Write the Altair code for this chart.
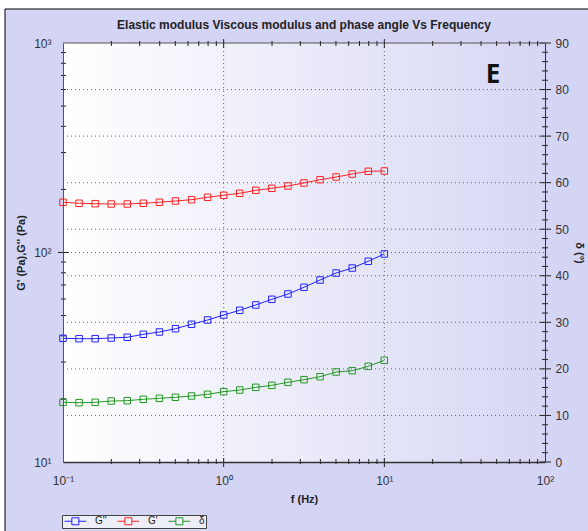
import altair as alt
import pandas as pd

# ---------------- data ----------------
freq = [0.1, 0.1259, 0.1585, 0.1995, 0.2512, 0.3162, 0.3981, 0.5012, 0.631, 0.7943,
        1.0, 1.259, 1.585, 1.995, 2.512, 3.162, 3.981, 5.012, 6.31, 7.943, 10.0]
g_storage = [173.7, 171.8, 171.0, 170.4, 170.4, 171.8, 173.7, 176.2, 178.7, 183.5,
             187.5, 191.7, 198.1, 202.6, 207.7, 214.7, 222.6, 229.3, 236.9, 244.1, 244.9]
g_loss = [38.95, 38.78, 38.78, 39.08, 39.38, 40.7, 41.74, 43.28, 45.43, 47.62,
          50.31, 52.98, 56.16, 59.78, 63.37, 68.22, 73.9, 79.8, 84.3, 90.8, 98.4]
delta = [12.82, 12.74, 12.82, 13.10, 13.17, 13.47, 13.68, 13.90, 14.18, 14.54,
         15.10, 15.46, 16.04, 16.47, 17.12, 17.68, 18.32, 19.33, 19.61, 20.55, 21.84]

series_names = ["G''", "G'", "δ"]
series_colors = ["#2222ff", "#ff2222", "#229922"]

x_major = [0.1, 1, 10, 100]
x_labels = ["10⁻¹", "10⁰", "10¹", "10²"]
x_minor = [0.2, 0.3, 0.4, 0.5, 0.6, 0.7, 0.8, 0.9,
           2, 3, 4, 5, 6, 7, 8, 9,
           20, 30, 40, 50, 60, 70, 80, 90]
x_grid = [1, 10]

yl_major = [10, 100, 1000]
yl_labels = ["10¹", "10²", "10³"]
yl_minor = [20, 30, 40, 50, 60, 70, 80, 90, 200, 300, 400, 500, 600, 700, 800, 900]
yl_grid = [100]

yr_major = [0, 10, 20, 30, 40, 50, 60, 70, 80, 90]
yr_minor = [2, 4, 6, 8, 12, 14, 16, 18, 22, 24, 26, 28, 32, 34, 36, 38, 42, 44, 46, 48,
            52, 54, 56, 58, 62, 64, 66, 68, 72, 74, 76, 78, 82, 84, 86, 88]
yr_grid = [10, 20, 30, 40, 50, 60, 70, 80]

annot_text = ["E"]
annot_x = [47.5]
annot_y = [83.1]

title_text = ["Elastic modulus Viscous modulus and phase angle Vs Frequency"]

# ---------------- helpers ----------------
FONT = "Liberation Sans"
W, H = 482, 419


def label_expr(vals, labels):
    expr = "''"
    for v, l in reversed(list(zip(vals, labels))):
        expr = f"datum.value == {v} ? '{l}' : ({expr})"
    return expr


def X(field):
    return alt.X(f"{field}:Q",
                 scale=alt.Scale(type="log", domain=[0.1, 100], nice=False),
                 axis=alt.Axis(values=x_major, labelExpr=label_expr(x_major, x_labels),
                               ticks=False, grid=False, domain=True, domainColor="#333333",
                               domainWidth=1.5, labelFont=FONT, labelFontSize=12,
                               labelColor="#333333", labelPadding=13, labelFlush=False,
                               title="f (Hz)", titleFont=FONT, titleFontSize=11,
                               titleFontWeight="bold", titleColor="#222222",
                               titlePadding=7, zindex=1))


def YL(field):
    return alt.Y(f"{field}:Q",
                 scale=alt.Scale(type="log", domain=[10, 1000], nice=False),
                 axis=alt.Axis(orient="left", values=yl_major,
                               labelExpr=label_expr(yl_major, yl_labels),
                               ticks=False, grid=False, domain=True, domainColor="#555555",
                               labelFont=FONT, labelFontSize=12, labelColor="#333333",
                               labelPadding=12, labelFlush=False,
                               title="G' (Pa),G'' (Pa)", titleFont=FONT, titleFontSize=11,
                               titleFontWeight="bold", titleColor="#222222",
                               titlePadding=7, zindex=1))


def YR(field):
    return alt.Y(f"{field}:Q",
                 scale=alt.Scale(type="linear", domain=[0, 90], nice=False, zero=False),
                 axis=alt.Axis(orient="right", values=yr_major, ticks=False, grid=False,
                               domain=True, domainColor="#333333", labelFont=FONT,
                               labelFontSize=12, labelColor="#333333", labelPadding=10,
                               labelFlush=False, title="δ (°)", titleFont=FONT,
                               titleFontSize=11, titleFontWeight="bold",
                               titleColor="#222222", titlePadding=5, zindex=1))


# legend symbol: a line with an open square, drawn as one custom path
legend = alt.Legend(orient="none", legendX=-1, legendY=472, direction="horizontal",
                    title=None,
                    symbolType="M-1,0H1.1M3.1,0H5.2M1.1,-1H3.1V1H1.1Z",
                    symbolSize=49, symbolStrokeWidth=1, symbolFillColor="transparent",
                    labelFont=FONT, labelFontSize=10, labelColor="#222222",
                    labelOffset=22, columnPadding=8, padding=1, rowPadding=0,
                    strokeColor="#444444", fillColor="#eeeef8", zindex=2)

color = alt.Color("series:N", scale=alt.Scale(domain=series_names, range=series_colors),
                  legend=legend)

one = pd.DataFrame({"a": [0]})

# ---------------- backgrounds ----------------
frame = alt.Chart(one).mark_rect(fill="#d4d4f5", stroke="#000000", strokeWidth=1).encode(
    x=alt.value(-58), x2=alt.value(W + 60), y=alt.value(-34), y2=alt.value(H + 80))

title_mark = alt.Chart(pd.DataFrame({"t": title_text})).mark_text(
    font=FONT, fontSize=12, fontWeight="bold", color="#222222",
    align="center", baseline="middle").encode(
    x=alt.value(W / 2), y=alt.value(-18), text="t:N")

plot_bg = alt.Chart(one).mark_rect(
    fill={"gradient": "linear", "x1": 0, "y1": 0, "x2": 1, "y2": 0,
          "stops": [{"offset": 0, "color": "#ffffff"},
                    {"offset": 1, "color": "#d6d6f4"}]}).encode(
    x=alt.value(0), x2=alt.value(W), y=alt.value(0), y2=alt.value(H))

top_edge = alt.Chart(one).mark_rule(color="#555555", strokeWidth=1).encode(
    x=alt.value(0), x2=alt.value(W), y=alt.value(0))

dotted = dict(color="#666666", strokeDash=[1, 3], strokeWidth=1)

grid_x = alt.Chart(pd.DataFrame({"v": x_grid})).mark_rule(**dotted).encode(
    x=X("v"), y=alt.value(0), y2=alt.value(H))
grid_yl = alt.Chart(pd.DataFrame({"v": yl_grid})).mark_rule(**dotted).encode(
    y=YL("v"), x=alt.value(0), x2=alt.value(W))
grid_yr = alt.Chart(pd.DataFrame({"v": yr_grid})).mark_rule(**dotted).encode(
    y=YR("v"), x=alt.value(0), x2=alt.value(W))

# ---------------- ticks ----------------
tick_style = dict(color="#222222", strokeWidth=1)


def xticks(vals, a, b):
    return alt.Chart(pd.DataFrame({"v": vals})).mark_rule(**tick_style).encode(
        x=X("v"), y=alt.value(a), y2=alt.value(b))


def ylticks(vals, a, b):
    return alt.Chart(pd.DataFrame({"v": vals})).mark_rule(**tick_style).encode(
        y=YL("v"), x=alt.value(a), x2=alt.value(b))


def yrticks(vals, a, b):
    return alt.Chart(pd.DataFrame({"v": vals})).mark_rule(**tick_style).encode(
        y=YR("v"), x=alt.value(a), x2=alt.value(b))


ticks_left = [
    xticks(x_minor, H - 3, H + 2), xticks(x_grid, H - 4, H + 5),
    xticks(x_minor, -2, 3), xticks(x_grid, -4, 5),
    ylticks(yl_minor, -2, 3), ylticks(yl_grid, -5, 6),
]
ticks_right = [yrticks(yr_minor, W - 3, W + 3), yrticks(yr_major, W - 5, W + 6)]

# ---------------- data layers ----------------
df_lr = pd.DataFrame({
    "f": freq * 2,
    "val": g_loss + g_storage,
    "series": [series_names[0]] * len(freq) + [series_names[1]] * len(freq),
})
df_d = pd.DataFrame({"f": freq, "val": delta, "series": [series_names[2]] * len(freq)})

base_l = alt.Chart(df_lr).encode(x=X("f"), y=YL("val"), color=color,
                                 detail="series:N")
lines_l = base_l.mark_line(strokeWidth=1)
pts_l = base_l.mark_point(shape="square", size=42, filled=False, strokeWidth=1,
                          opacity=1)

base_r = alt.Chart(df_d).encode(x=X("f"), y=YR("val"), color=color)
lines_r = base_r.mark_line(strokeWidth=1)
pts_r = base_r.mark_point(shape="square", size=42, filled=False, strokeWidth=1,
                          opacity=1)

annot = alt.Chart(pd.DataFrame({"t": annot_text, "x": annot_x, "y": annot_y})).mark_text(
    font="Open Sans", fontSize=26, fontWeight="bold", color="#111111",
    align="center", baseline="middle").encode(x=X("x"), y=YR("y"), text="t:N")

right_group = alt.layer(frame, title_mark, plot_bg, grid_yr, *ticks_right,
                        lines_r, pts_r, annot)
left_group = alt.layer(grid_x, grid_yl, top_edge, *ticks_left, lines_l, pts_l)

chart = alt.layer(right_group, left_group).resolve_scale(y="independent").properties(
    width=W, height=H,
    autosize=alt.AutoSizeParams(type="none"),
    padding={"left": 63, "top": 43, "right": 43, "bottom": 69},
).configure(background="white").configure_view(stroke=None)

chart.save("out.html", embed_options={"renderer": "svg", "actions": False})
